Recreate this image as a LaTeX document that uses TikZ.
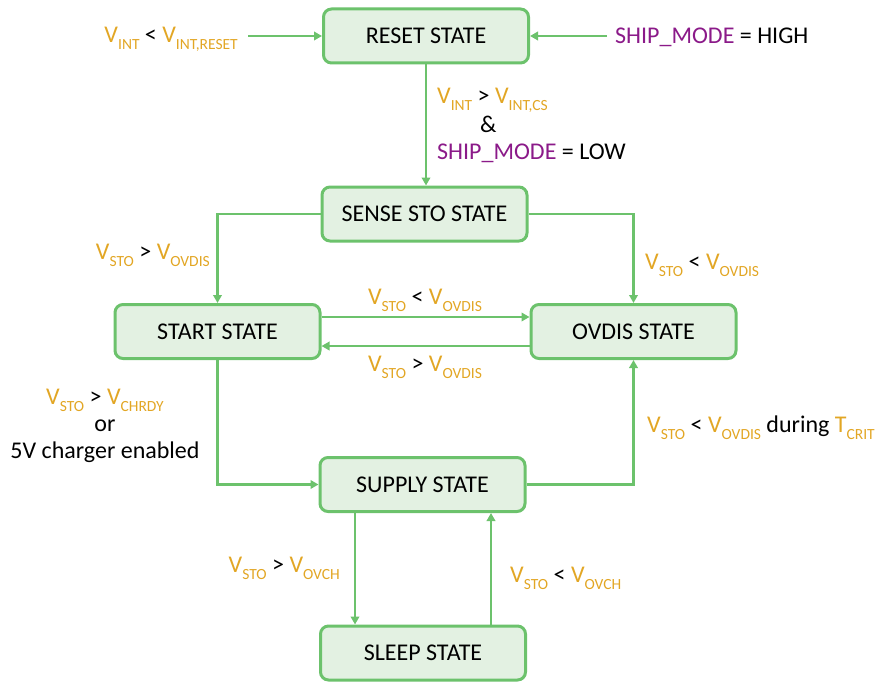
\documentclass[tikz,border=0pt]{standalone}
\usepackage{fontspec}
\setmainfont{Carlito}
\usetikzlibrary{arrows.meta}
\definecolor{gline}{HTML}{6CC26C}
\definecolor{gfill}{HTML}{E3F1E2}
\definecolor{vor}{HTML}{E2A624}
\definecolor{pur}{HTML}{8B1A89}
\newcommand\Vs[1]{\textcolor{vor}{V\raisebox{-0.3em}{\fontsize{15.5}{15.5}\selectfont #1}}}
\newcommand\Ts[1]{\textcolor{vor}{T\raisebox{-0.3em}{\fontsize{15.5}{15.5}\selectfont #1}}}
\newcommand\SM{\textcolor{pur}{SHIP\_MODE}}
\begin{document}
\begin{tikzpicture}[x=1pt,y=-1pt,
  state/.style={draw=gline, line width=3pt, fill=gfill, rounded corners=8pt,
    minimum width=205pt, minimum height=54pt, inner sep=0pt,
    font=\fontsize{24}{28}\selectfont},
  conn/.style={draw=gline, line width=2.8pt, -{Triangle[length=8pt,width=8.5pt]}},
  lbl/.style={font=\fontsize{24}{27}\selectfont, inner sep=0pt, align=center}]
\useasboundingbox (0,0) rectangle (877,682);
\node[state] (reset) at (426,36) {RESET STATE};
\node[state] (sense) at (424.5,214) {SENSE STO STATE};
\node[state] (start) at (217.5,331.5) {START STATE};
\node[state] (ovdis) at (633.5,331.5) {OVDIS STATE};
\node[state] (supply) at (422.5,484.5) {SUPPLY STATE};
\node[state] (sleep) at (423,653) {SLEEP STATE};
% inputs to reset
\coordinate (inL) at (248,36);
\coordinate (inR) at (607,36);
\draw[conn] (inL) -- (reset.west);
\draw[conn] (inR) -- (reset.east);
\node[lbl, anchor=east] (lInL) at (238,39) {\Vs{INT} < \Vs{INT,RESET}};
\node[lbl, anchor=west] (lInR) at (615,37) {\SM{} = HIGH};
% reset -> sense
\draw[conn] (reset.south) -- (reset.south |- sense.north);
\node[lbl, anchor=west] (lRS1) at (437,100) {\Vs{INT} > \Vs{INT,CS}};
\node[lbl, anchor=west] (lRS2) at (480,124) {\&};
\node[lbl, anchor=west] (lRS3) at (437,153) {\SM{} = LOW};
% sense -> start / ovdis
\draw[conn] (sense.west) -| (start.north);
\draw[conn] (sense.east) -| (ovdis.north);
\node[lbl, anchor=east] (lSS) at (210,255) {\Vs{STO} > \Vs{OVDIS}};
\node[lbl, anchor=west] (lSO) at (645,265) {\Vs{STO} < \Vs{OVDIS}};
% start <-> ovdis
\draw[conn] ([yshift=14.5pt]start.east) -- ([yshift=14.5pt]start.east -| ovdis.west);
\draw[conn] ([yshift=-14.5pt]ovdis.west) -- ([yshift=-14.5pt]ovdis.west -| start.east);
\node[lbl] (lSO1) at (425,300) {\Vs{STO} < \Vs{OVDIS}};
\node[lbl] (lSO2) at (425,367) {\Vs{STO} > \Vs{OVDIS}};
% start -> supply
\draw[conn] (start.south) |- (supply.west);
\node[lbl] (lSt) at (105,426) {\Vs{STO} > \Vs{CHRDY}\\or\\5V charger enabled};
% supply -> ovdis
\draw[conn] (supply.east) -| (ovdis.south);
\node[lbl, anchor=west] (lSuO) at (647,428) {\Vs{STO} < \Vs{OVDIS} during \Ts{CRIT}};
% supply <-> sleep
\draw[conn] ([xshift=-67.5pt]supply.south) -- ([xshift=-67.5pt]supply.south |- sleep.north);
\draw[conn] ([xshift=68pt]sleep.north) -- ([xshift=68pt]sleep.north |- supply.south);
\node[lbl, anchor=east] (lSl1) at (340,568) {\Vs{STO} > \Vs{OVCH}};
\node[lbl, anchor=west] (lSl2) at (510,578) {\Vs{STO} < \Vs{OVCH}};
\end{tikzpicture}
\end{document}
